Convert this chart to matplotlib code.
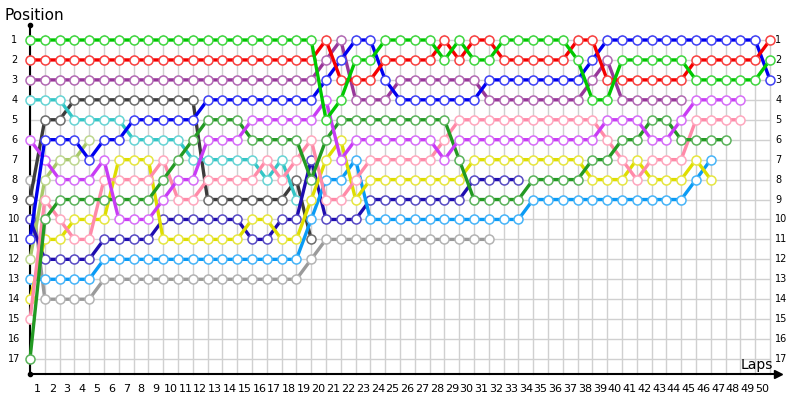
import matplotlib.pyplot as plt
from matplotlib.colors import to_rgb

# position of each car at the end of every lap (index 0 = grid)
green = [1, 1, 1, 1, 1, 1, 1, 1, 1, 1, 1, 1, 1, 1, 1, 1, 1, 1, 1, 1,
         5, 4, 2, 2, 1, 1, 1, 1, 2, 1, 2, 2, 1, 1, 1, 1, 1, 2, 4, 4,
         2, 2, 2, 2, 2, 3, 3, 3, 3, 3, 2]
red = [2, 2, 2, 2, 2, 2, 2, 2, 2, 2, 2, 2, 2, 2, 2, 2, 2, 2, 2, 2,
       1, 3, 3, 3, 2, 2, 2, 2, 1, 2, 1, 1, 2, 2, 2, 2, 2, 1, 1, 3,
       3, 3, 3, 3, 3, 2, 2, 2, 2, 2, 1]
purple = [3, 3, 3, 3, 3, 3, 3, 3, 3, 3, 3, 3, 3, 3, 3, 3, 3, 3, 3, 3,
          2, 1, 4, 4, 4, 3, 3, 3, 3, 3, 3, 4, 4, 4, 4, 4, 4, 4, 3, 2,
          4, 4, 4, 4, 4]
blue = [11, 6, 6, 6, 7, 6, 6, 5, 5, 5, 5, 5, 4, 4, 4, 4, 4, 4, 4, 4,
        3, 2, 1, 1, 3, 4, 4, 4, 4, 4, 4, 3, 3, 3, 3, 3, 3, 3, 2, 1,
        1, 1, 1, 1, 1, 1, 1, 1, 1, 1, 3]
cyan = [4, 4, 4, 5, 5, 5, 5, 6, 6, 6, 6, 7, 7, 7, 7, 7, 8, 7, 9]
dark_gray = [9, 5, 5, 4, 4, 4, 4, 4, 4, 4, 4, 4, 9, 9, 9, 9, 9, 9, 8, 11]
light_gray = [8, 14, 14, 14, 14, 13, 13, 13, 13, 13, 13, 13, 13, 13, 13, 13,
              13, 13, 13, 12, 11, 11, 11, 11, 11, 11, 11, 11, 11, 11, 11, 11]
light_green = [12, 8, 7, 7, 6]
navy = [10, 12, 12, 12, 12, 11, 11, 11, 11, 10, 10, 10, 10, 10, 10, 11, 11,
        10, 10, 7, 10, 10, 10, 9, 9, 9, 9, 9, 9, 9, 8, 8, 8, 8]
light_blue = [13, 13, 13, 13, 13, 12, 12, 12, 12, 12, 12, 12, 12, 12, 12, 12,
              12, 12, 12, 10, 8, 8, 7, 10, 10, 10, 10, 10, 10, 10, 10, 10,
              10, 10, 9, 9, 9, 9, 9, 9, 9, 9, 9, 9, 9, 8, 7]
yellow = [14, 11, 11, 10, 10, 10, 7, 7, 7, 11, 11, 11, 11, 11, 11, 10, 10,
          11, 11, 9, 7, 6, 9, 8, 8, 8, 8, 8, 8, 8, 7, 7, 7, 7, 7, 7, 7, 7,
          8, 8, 8, 7, 8, 8, 8, 7, 8]
pink = [15, 9, 10, 11, 11, 8, 8, 8, 8, 7, 9, 9, 8, 8, 8, 8, 7, 8, 7, 6,
        9, 9, 8, 7, 7, 7, 7, 7, 6, 5, 5, 5, 5, 5, 5, 5, 5, 5, 5, 6,
        7, 8, 7, 7, 7, 5, 5, 5, 5]
violet = [6, 7, 8, 8, 8, 7, 10, 10, 10, 9, 8, 8, 6, 6, 6, 5, 5, 5, 5, 5,
          4, 7, 6, 6, 6, 6, 6, 6, 7, 6, 6, 6, 6, 6, 6, 6, 6, 6, 6, 5,
          5, 5, 6, 6, 5, 4, 4, 4, 4]
dark_green = [17, 10, 9, 9, 9, 9, 9, 9, 9, 8, 7, 6, 5, 5, 5, 6, 6, 6, 6, 8,
              6, 5, 5, 5, 5, 5, 5, 5, 5, 7, 9, 9, 9, 9, 8, 8, 8, 8, 7, 7,
              6, 6, 5, 5, 6, 6, 6, 6]

cars = [
    (light_gray, "#9a9a9a"),
    (dark_gray, "#3c3c3c"),
    (light_green, "#a8c96a"),
    (cyan, "#33c6c6"),
    (navy, "#1f0db0"),
    (light_blue, "#0a9bf5"),
    (yellow, "#dede00"),
    (pink, "#ff8aa8"),
    (dark_green, "#239a23"),
    (violet, "#c83cf5"),
    (purple, "#98379a"),
    (blue, "#0000f0"),
    (red, "#f50000"),
    (green, "#00c800"),
]

n_laps = 50
n_pos = 17

fig = plt.figure(figsize=(8, 4), dpi=100)
ax = fig.add_axes([0, 0, 1, 1])
ax.set_xlim(-30 / 14.8, 770 / 14.8)
ax.set_ylim(1 + 360 / 19.94, 1 - 40 / 19.94)
ax.axis("off")

# grid
for lap in range(n_laps + 1):
    ax.plot([lap, lap], [0.75, 17.75], color="#d0d0d0", lw=1, zorder=0)
for p in range(1, n_pos + 1):
    ax.plot([0, n_laps], [p, p], color="#d0d0d0", lw=1, zorder=0)

# axes with arrows
ax.plot([0, 0], [17.75, 0.25], color="black", lw=1.5, zorder=1)
ax.plot([0, 50.55], [17.75, 17.75], color="black", lw=1.5, zorder=1)
ax.plot([0], [0.25], marker="o", ms=3, color="black", zorder=1)
ax.plot([0], [17.75], marker="o", ms=3, color="black", zorder=1)
ax.plot([50.55], [17.75], marker=">", ms=6, color="black", zorder=1)

# labels
for lap in range(1, n_laps + 1):
    ax.text(lap - 0.5, 18.5, str(lap), ha="center", va="center", fontsize=8)
for p in range(1, n_pos + 1):
    ax.text(-1.05, p, str(p), ha="center", va="center", fontsize=7)
    ax.text(50.35, p, str(p), ha="left", va="center", fontsize=7)
ax.text(-1.7, -0.25, "Position", ha="left", va="center", fontsize=11)
ax.text(48.0, 17.3, "Laps", ha="left", va="center", fontsize=10)

for i, (pos, color) in enumerate(cars):
    edge = tuple(c + (1 - c) * 0.25 for c in to_rgb(color))
    ax.plot(range(len(pos)), pos, color=color, lw=2.4, marker="o", ms=6.5,
            mfc="white", mec=edge, mew=1.1, zorder=2 + i,
            solid_joinstyle="round")

fig.savefig("out.png", dpi=100)
